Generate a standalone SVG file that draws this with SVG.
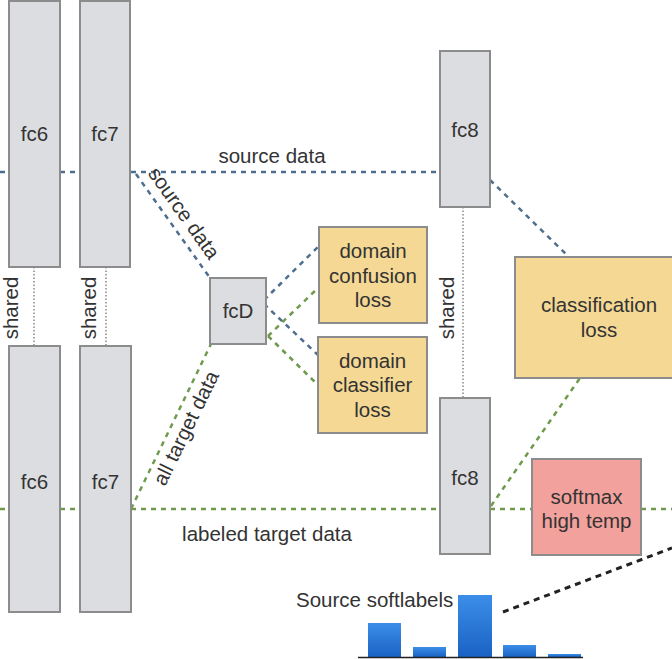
<svg xmlns="http://www.w3.org/2000/svg" width="672" height="659" viewBox="0 0 672 659">
<defs>
<linearGradient id="bar" x1="0" y1="0" x2="0" y2="1">
<stop offset="0" stop-color="#3b8ee8"/><stop offset="1" stop-color="#1a62c4"/>
</linearGradient>
</defs>
<style>
text{font-family:"Liberation Sans",Arial,sans-serif;fill:#333;font-size:20.5px}
.g{fill:#dcdde0;stroke:#8c8c8c;stroke-width:2}
.y{fill:#f4d894;stroke:#8c8c8c;stroke-width:2}
.p{fill:#f3a19c;stroke:#8c8c8c;stroke-width:2}
.c{text-anchor:middle}
.bl{stroke:#4d6e8e;stroke-width:2.5;stroke-dasharray:5 5;fill:none}
.gr{stroke:#6f9a4c;stroke-width:2.5;stroke-dasharray:5 5;fill:none}
.dt{stroke:#888;stroke-width:1.5;stroke-dasharray:1.5 2;fill:none}
.bk{stroke:#222;stroke-width:3;stroke-dasharray:6 5;fill:none}
</style>
<g id="connectors">
<path class="bl" d="M0 172H9M60 172H80M131 172H440"/>
<path class="bl" d="M136 174L210 278"/>
<path class="bl" d="M490 180L567 255"/>
<path class="bl" d="M264 300L319 246M264 304L318 355"/>
<path class="gr" d="M0 509H9M60 509H80M131 509H440M490 509H532M641 509H672"/>
<path class="gr" d="M131 509L211 344"/>
<path class="gr" d="M491 506L580 378"/>
<path class="gr" d="M268 336L318 288M268 336L318 385"/>
<path class="dt" d="M34 267V346M106 267V346M463 207V398"/>
<path class="bk" d="M503 612L672 548"/>
</g>
<g id="fc6_top"><rect class="g" x="9" y="1" width="51" height="266"/><text class="c" x="34.5" y="141">fc6</text></g>
<g id="fc7_top"><rect class="g" x="80" y="1" width="50" height="266"/><text class="c" x="105" y="141">fc7</text></g>
<g id="fc6_bot"><rect class="g" x="9" y="346" width="51" height="266"/><text class="c" x="34.5" y="489">fc6</text></g>
<g id="fc7_bot"><rect class="g" x="80" y="346" width="51" height="266"/><text class="c" x="105.5" y="489">fc7</text></g>
<g id="fcD"><rect class="g" x="210" y="278" width="56" height="66"/><text class="c" x="238" y="318">fcD</text></g>
<g id="dconf"><rect class="y" x="319" y="227" width="108" height="96"/><text class="c" x="373" y="258">domain</text><text class="c" x="373" y="283">confusion</text><text class="c" x="373" y="307">loss</text></g>
<g id="dclass"><rect class="y" x="318" y="337" width="109" height="96"/><text class="c" x="372.5" y="368">domain</text><text class="c" x="372.5" y="392">classifier</text><text class="c" x="372.5" y="417">loss</text></g>
<g id="fc8_top"><rect class="g" x="440" y="51" width="50" height="156"/><text class="c" x="465" y="137">fc8</text></g>
<g id="fc8_bot"><rect class="g" x="440" y="398" width="50" height="156"/><text class="c" x="465" y="485">fc8</text></g>
<g id="closs"><rect class="y" x="515" y="257" width="160" height="121"/><text class="c" x="599" y="312">classification</text><text class="c" x="599" y="337">loss</text></g>
<g id="softmax"><rect class="p" x="532" y="459" width="109" height="96"/><text class="c" x="586.5" y="504">softmax</text><text class="c" x="586.5" y="528">high temp</text></g>
<g id="labels">
<text class="c" x="272" y="163">source data</text>
<text class="c" x="267" y="541">labeled target data</text>
<text class="c" transform="translate(184,213) rotate(54.6)" y="7">source data</text>
<text class="c" transform="translate(186,428) rotate(-64)" y="7">all target data</text>
<text class="c" transform="translate(11,308) rotate(-90)" y="7">shared</text>
<text class="c" transform="translate(89,308) rotate(-90)" y="7">shared</text>
<text class="c" transform="translate(447,308) rotate(-90)" y="7">shared</text>
</g>
<g id="softlabels">
<text x="296" y="607">Source softlabels</text>
<rect fill="url(#bar)" x="368" y="623" width="33" height="34"/>
<rect fill="url(#bar)" x="413" y="647" width="33" height="10"/>
<rect fill="url(#bar)" x="458" y="595" width="34" height="62"/>
<rect fill="url(#bar)" x="503" y="645" width="33" height="12"/>
<rect fill="url(#bar)" x="548" y="654" width="33" height="3"/>
<path d="M358 657.5H583" stroke="#222" stroke-width="1.5"/>
</g>
</svg>
